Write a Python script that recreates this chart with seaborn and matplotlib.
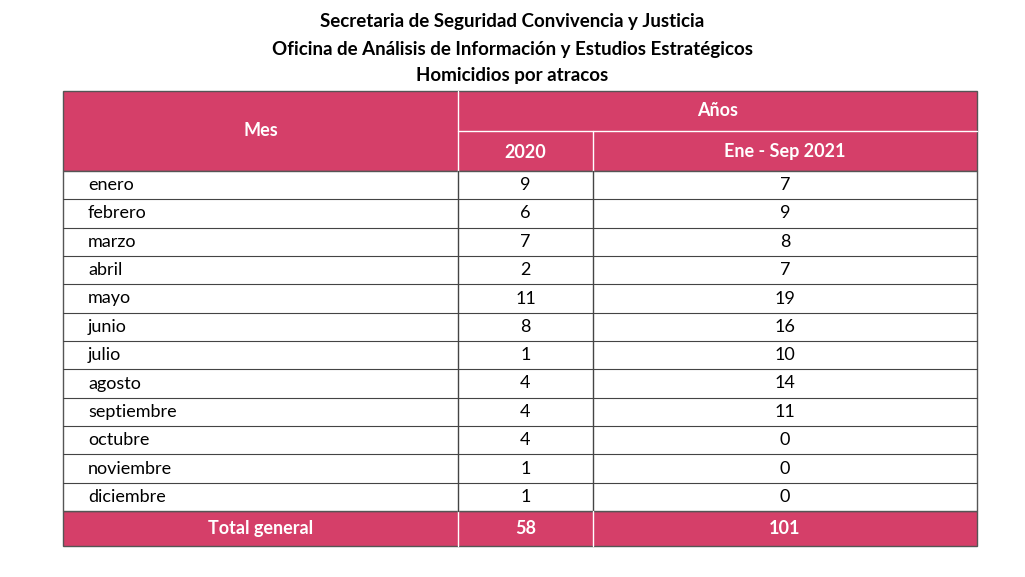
import matplotlib
matplotlib.use("Agg")
import matplotlib.pyplot as plt
import seaborn as sns
from matplotlib.patches import Rectangle

sns.set_theme(style="white")
plt.rcParams['font.family'] = ['Lato', 'DejaVu Sans']

titles = ["Secretaria de Seguridad Convivencia y Justicia",
          "Oficina de Análisis de Información y Estudios Estratégicos",
          "Homicidios por atracos"]
months = ["enero", "febrero", "marzo", "abril", "mayo", "junio", "julio",
          "agosto", "septiembre", "octubre", "noviembre", "diciembre"]
v2020 = [9, 6, 7, 2, 11, 8, 1, 4, 4, 4, 1, 1]
v2021 = [7, 9, 8, 7, 19, 16, 10, 14, 11, 0, 0, 0]
col_headers = ["Mes", "Años", "2020", "Ene - Sep 2021"]
total_label = "Total general"

pink = "#D53F69"
fig = plt.figure(figsize=(10.25, 5.77), dpi=100)
ax = fig.add_axes([0, 0, 1, 1])
ax.set_xlim(0, 1025); ax.set_ylim(577, 0); ax.axis("off")

x0, x1, x2, x3 = 63, 458, 593, 977
yh0, yh1, yh2 = 91, 131, 171
ytot0, ytot1 = 511, 546
rh = (ytot0 - yh2) / len(months)

for i, t in enumerate(titles):
    ax.text(512, 22 + 27 * i, t, ha="center", va="center", fontsize=13.5, fontweight="bold", color="black")

ax.add_patch(Rectangle((x0, yh0), x3 - x0, yh2 - yh0, fc=pink, ec="#555", lw=1))
ax.add_patch(Rectangle((x0, ytot0), x3 - x0, ytot1 - ytot0, fc=pink, ec="#555", lw=1))
ax.add_patch(Rectangle((x0, yh2), x3 - x0, ytot0 - yh2, fc="white", ec="#555", lw=1))
lc = "#444"
ax.plot([x1, x1], [yh0, ytot1], color="white", lw=1)
ax.plot([x1, x1], [yh2, ytot0], color=lc, lw=1)
ax.plot([x2, x2], [yh1, yh2], color="white", lw=1)
ax.plot([x2, x2], [yh2, ytot0], color=lc, lw=1)
ax.plot([x2, x2], [ytot0, ytot1], color="white", lw=1)
ax.plot([x1, x3], [yh1, yh1], color="white", lw=1)
for i in range(1, len(months)):
    y = yh2 + rh * i
    ax.plot([x0, x3], [y, y], color=lc, lw=0.8)

hk = dict(ha="center", va="center", fontsize=13, fontweight="bold", color="white")
ax.text((x0 + x1) / 2, 131, col_headers[0], **hk)
ax.text((x1 + x3) / 2, 111, col_headers[1], **hk)
ax.text((x1 + x2) / 2, 152, col_headers[2], **hk)
ax.text((x2 + x3) / 2, 152, col_headers[3], **hk)

for i, (m, a, b) in enumerate(zip(months, v2020, v2021)):
    y = yh2 + rh * (i + 0.5)
    ax.text(88, y, m, ha="left", va="center", fontsize=13, color="black")
    ax.text((x1 + x2) / 2, y, str(a), ha="center", va="center", fontsize=13, color="black")
    ax.text((x2 + x3) / 2, y, str(b), ha="center", va="center", fontsize=13, color="black")

yt = (ytot0 + ytot1) / 2
ax.text((x0 + x1) / 2, yt, total_label, **hk)
ax.text((x1 + x2) / 2, yt, str(sum(v2020)), **hk)
ax.text((x2 + x3) / 2, yt, str(sum(v2021)), **hk)

fig.savefig("out.png", dpi=100, facecolor="white")
